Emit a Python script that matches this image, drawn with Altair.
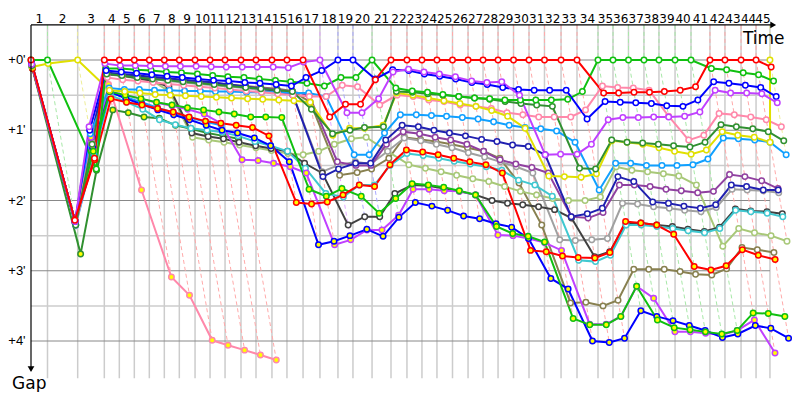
import altair as alt
import pandas as pd

# leader crossing time (race minutes) at the end of laps 0..45
lap_time = [0.0, 1.375, 3.89, 6.11, 7.36, 8.61, 9.86, 11.11, 12.36, 13.67,
            14.92, 16.17, 17.5, 18.75, 20.08, 21.33, 22.67, 24.08, 25.58, 26.83,
            28.42, 30.0, 31.33, 32.58, 33.83, 35.125, 36.42, 37.67, 38.92, 40.21,
            41.5, 42.79, 44.17, 45.5, 47.25, 48.5, 49.79, 51.08, 52.33, 53.67,
            55.0, 56.58, 57.83, 59.17, 60.42, 61.58]

# colour of the leader for laps 1..45 (index 0 unused)
lap_leader = [None, "green", "yellow",
              "red", "red", "red", "red", "red", "red", "red", "red", "red", "red", "red", "red", "red", "red",
              "magenta", "blue", "blue", "green",
              "red", "red", "red", "red", "red", "red", "red", "red", "red", "red", "red", "red", "red",
              "green", "green", "green", "green", "green", "green", "green",
              "red", "red", "red", "red", "yellow"]

# gap to leader (minutes), per lap 0..n
red_a = [0.0, 2.28, 1.4, 0, 0, 0, 0, 0, 0, 0, 0, 0, 0, 0, 0, 0, 0, 0.81, 0.63, 0.63,
         0.28, 0, 0, 0, 0, 0, 0, 0, 0, 0, 0, 0, 0, 0, 0.47, 0.47, 0.46, 0.46, 0.45, 0.43,
         0.38, 0, 0, 0, 0, 0.1]
mag_a = [0.06, 2.3, 0.95, 0.05, 0.08, 0.08, 0.085, 0.09, 0.09, 0.09, 0.095, 0.1, 0.1, 0.1, 0.1,
         0.11, 0.03, 0, 0.75, 0.75, 0.55, 0.17, 0.13, 0.17, 0.2, 0.24, 0.3, 0.32, 0.31, 0.5,
         1.35, 1.34, 1.34, 1.2, 0.85, 0.82, 0.82, 0.81, 0.81, 0.8, 0.74, 0.43, 0.47, 0.47, 0.48, 0.61]
blue_a = [0.04, 2.3, 1.0, 0.15, 0.17, 0.19, 0.21, 0.23, 0.25, 0.27, 0.29, 0.3, 0.32, 0.33, 0.35,
          0.37, 0.25, 0.15, 0, 0, 0.27, 0.14, 0.15, 0.2, 0.23, 0.27, 0.32, 0.35, 0.39, 0.42,
          0.43, 0.43, 0.43, 0.84, 0.59, 0.6, 0.61, 0.62, 0.65, 0.66, 0.57, 0.31, 0.33, 0.36, 0.39, 0.52]
green_a = [0.0, 0, 1.55, 0.12, 0.12, 0.14, 0.15, 0.17, 0.18, 0.2, 0.22, 0.24, 0.25, 0.27, 0.29,
           0.31, 0.33, 0.37, 0.25, 0.25, 0, 0.4, 0.44, 0.46, 0.49, 0.52, 0.54, 0.55, 0.57, 0.57,
           0.57, 0.57, 0.56, 0.45, 0, 0, 0, 0, 0, 0, 0, 0.12, 0.14, 0.18, 0.21, 0.3]
yellow_a = [0.1, 0.05, 0, 0.43, 0.45, 0.47, 0.49, 0.5, 0.51, 0.52, 0.53, 0.54, 0.55, 0.56, 0.57,
            0.58, 0.6, 1.07, 0.97, 0.97, 0.93, 0.47, 0.5, 0.54, 0.58, 0.62, 0.66, 0.72, 0.8, 0.97,
            1.65, 1.66, 1.67, 1.62, 1.15, 1.17, 1.2, 1.25, 1.3, 1.34, 1.28, 1.02, 1.07, 1.1, 1.17, 0]
dkgreen_a = [0.08, 2.35, 1.2, 0.2, 0.22, 0.25, 0.27, 0.29, 0.31, 0.33, 0.35, 0.37, 0.39, 0.41, 0.43,
             0.45, 0.7, 1.05, 1.0, 0.96, 0.95, 0.45, 0.46, 0.48, 0.5, 0.52, 0.54, 0.56, 0.59, 0.62,
             0.64, 0.66, 1.54, 1.55, 1.14, 1.17, 1.18, 1.2, 1.22, 1.24, 1.17, 0.92, 0.95, 0.98, 1.02, 1.15]
red_b = [0.12, 2.28, 1.42, 0.55, 0.6, 0.64, 0.69, 0.74, 0.81, 0.87, 0.9, 0.93, 0.96, 1.08, 2.03,
         2.05, 2.02, 1.92, 1.78, 1.8, 1.49, 1.28, 1.31, 1.35, 1.4, 1.45, 1.49, 1.61, 2.71, 2.73,
         2.79, 2.81, 2.82, 2.74, 2.3, 2.32, 2.35, 2.48, 2.94, 2.99, 2.93, 2.7, 2.78, 2.84]
cyan_a = [0.1, 2.3, 1.2, 0.5, 0.6, 0.7, 0.85, 0.92, 0.97, 1.0, 1.03, 1.08, 1.16, 1.22, 1.3,
          1.54, 1.9, 1.95, 1.78, 1.78, 1.5, 1.33, 1.36, 1.4, 1.44, 1.48, 1.52, 1.57, 1.71, 1.78,
          1.94, 2.85, 2.87, 2.78, 2.35, 2.35, 2.37, 2.4, 2.43, 2.46, 2.4, 2.14, 2.16, 2.18, 2.23]
dkgray_a = [0.1, 2.32, 1.2, 0.2, 0.22, 0.26, 0.3, 0.38, 1.04, 1.09, 1.12, 1.17, 1.22, 1.26, 1.3,
            1.47, 1.61, 2.35, 2.23, 2.23, 1.9, 1.78, 1.79, 1.83, 1.87, 1.92, 2.0, 2.04, 2.06, 2.09,
            2.13, 2.25, 2.8, 2.73, 2.33, 2.32, 2.35, 2.37, 2.41, 2.44, 2.38, 2.12, 2.15, 2.16, 2.19]
ltolive_a = [0.1, 2.3, 1.2, 0.2, 0.23, 0.26, 0.3, 0.45, 1.1, 1.14, 1.17, 1.21, 1.25, 1.29, 1.33,
             1.35, 1.3, 1.2, 1.12, 1.1, 1.3, 1.49, 1.54, 1.59, 1.64, 1.69, 1.73, 1.8, 1.87, 1.92,
             1.97, 2.0, 2.0, 1.95, 1.52, 1.57, 1.59, 1.62, 1.65, 1.78, 2.65, 2.4, 2.46, 2.5, 2.58]
navy_a = [0.05, 2.3, 1.1, 0.18, 0.2, 0.22, 0.24, 0.26, 0.28, 0.3, 0.32, 0.35, 0.38, 0.41, 0.44,
          0.5, 1.66, 1.55, 1.47, 1.47, 1.14, 0.93, 0.95, 1.0, 1.04, 1.08, 1.13, 1.16, 1.21, 1.23,
          1.35, 2.23, 2.19, 2.11, 1.66, 1.73, 2.02, 2.04, 2.08, 2.11, 2.06, 1.78, 1.8, 1.85, 1.85]
purple_a = [0.06, 2.3, 1.1, 0.2, 0.22, 0.24, 0.26, 0.28, 0.3, 0.32, 0.34, 0.36, 0.38, 0.4, 0.42,
            0.45, 0.5, 1.45, 1.5, 1.5, 1.2, 1.02, 1.05, 1.1, 1.14, 1.2, 1.3, 1.42, 1.48, 1.53,
            1.61, 2.23, 2.25, 2.17, 1.78, 1.78, 1.8, 1.84, 1.86, 1.89, 1.87, 1.63, 1.66, 1.72, 1.83]
gray_a = [0.08, 2.3, 1.17, 0.2, 0.22, 0.25, 0.27, 0.3, 0.32, 0.34, 0.36, 0.38, 0.4, 0.43, 0.46,
          0.5, 1.59, 1.5, 1.45, 1.48, 1.3, 1.11, 1.15, 1.2, 1.25, 1.32, 1.38, 1.45, 1.52, 1.61,
          2.56, 2.57, 2.56, 2.54, 2.04, 2.05, 2.09, 2.11, 2.14, 2.16, 2.1, 1.84, 1.85, 1.86, 1.89]
olive_a = [0.07, 2.3, 1.15, 0.2, 0.21, 0.23, 0.25, 0.27, 0.29, 0.31, 0.33, 0.35, 0.37, 0.39, 0.41,
           0.44, 0.6, 1.64, 1.6, 1.55, 1.4, 1.1, 1.13, 1.16, 1.2, 1.25, 1.3, 1.4, 1.75, 2.35,
           3.46, 3.45, 3.5, 3.42, 2.98, 2.98, 2.98, 3.01, 3.05, 3.06, 2.97, 2.67, 2.7, 2.74]
pink_a = [0.08, 2.3, 1.2, 0.25, 0.28, 0.3, 0.32, 0.34, 0.36, 0.38, 0.4, 0.42, 0.44, 0.46, 0.48,
          0.5, 0.52, 0.52, 0.36, 0.38, 0.64, 0.5, 0.52, 0.57, 0.59, 0.64, 0.66, 0.69, 0.75, 0.78,
          0.81, 0.81, 0.81, 0.71, 0.37, 0.39, 0.4, 0.43, 0.8, 1.14, 1.07, 0.76, 0.78, 0.81, 0.85, 0.95]
pink_b = [0.1, 2.35, 1.3, 0.35, 1.85, 3.09, 3.35, 3.99, 4.06, 4.13, 4.2, 4.27]
mag_b = [0.05, 2.35, 1.1, 0.45, 0.5, 0.55, 0.61, 0.65, 0.7, 0.77, 0.9, 1.42, 1.43, 1.47, 1.52,
         1.61, 2.63, 2.56, 2.42, 2.42, 2.21, 1.84, 1.84, 1.86, 1.87, 1.92, 2.49, 2.5, 2.54, 2.6,
         2.71, 3.76, 3.76, 3.65, 3.22, 3.39, 3.87, 3.87, 3.89, 3.91, 3.85, 3.7, 4.17]
blue_b = [0.05, 2.3, 1.25, 0.45, 0.55, 0.63, 0.71, 0.78, 0.85, 0.93, 1.0, 1.04, 1.11, 1.22, 1.45,
          2.63, 2.58, 2.5, 2.41, 2.51, 2.24, 2.03, 2.08, 2.14, 2.22, 2.26, 2.33, 2.38, 2.54, 3.11,
          3.26, 4.0, 4.02, 3.96, 3.57, 3.65, 3.71, 3.78, 3.85, 3.95, 3.9, 3.78, 3.82, 3.96]
green_b = [0.1, 2.3, 1.3, 0.45, 0.5, 0.55, 0.6, 0.64, 0.68, 0.71, 0.74, 0.77, 0.81, 0.81, 0.82,
           1.84, 1.94, 1.83, 1.94, 2.18, 1.97, 1.76, 1.78, 1.81, 1.86, 1.92, 2.37, 2.47, 2.51, 2.59,
           3.68, 3.77, 3.77, 3.65, 3.22, 3.7, 3.81, 3.84, 3.87, 3.9, 3.85, 3.6, 3.61, 3.65]
dkgreen_b = [0.12, 2.76, 1.57, 0.71, 0.75, 0.81, 0.83, 0.93, 0.98, 1.04, 1.08, 1.12]
lblue_a = [0.03, 2.35, 1.05, 0.4, 0.42, 0.42, 0.43, 0.43, 0.44, 0.44, 0.45, 0.45, 0.46, 0.46, 0.46,
           0.47, 0.47, 0.52, 1.35, 1.35, 1.04, 0.78, 0.78, 0.79, 0.8, 0.82, 0.84, 0.88, 0.93, 0.96,
           0.98, 1.01, 1.17, 1.85, 1.47, 1.47, 1.5, 1.5, 1.5, 1.49, 1.41, 1.11, 1.12, 1.14, 1.17, 1.35]
lblue_b = [0.1, 2.35, 1.35, 0.47, 0.53, 0.6, 0.68, 0.75, 0.82, 0.88, 0.93]

driver_names = ["dkgreen_b", "lblue_b", "pink_b", "olive", "ltolive", "gray", "dkgray", "cyan",
                "purple", "navy", "mag_b", "blue_b", "green_b", "red_b", "lblue_a", "pink_a",
                "yellow", "dkgreen_a", "green_a", "blue_a", "mag_a", "red_a"]
driver_gaps = [dkgreen_b, lblue_b, pink_b, olive_a, ltolive_a, gray_a, dkgray_a, cyan_a,
               purple_a, navy_a, mag_b, blue_b, green_b, red_b, lblue_a, pink_a,
               yellow_a, dkgreen_a, green_a, blue_a, mag_a, red_a]
driver_colors = ["#309030", "#10a0ff", "#ff88aa", "#888050", "#a8c878", "#a0a0a0", "#404040", "#40c8d0",
                 "#9040a0", "#2020b0", "#c040ff", "#0000ff", "#10c010", "#ff0000", "#10a0ff", "#ff88aa",
                 "#e0e000", "#309030", "#10c010", "#0000ff", "#c040ff", "#ff0000"]
driver_fills = ["#ffff00", "#ffff00", "#ffff00", "#ffffff", "#ffffff", "#ffffff", "#ffffff", "#ffffff",
                "#ffffff", "#ffffff", "#ffff00", "#ffff00", "#ffff00", "#ffff00", "#ffffff", "#ffffff",
                "#ffffff", "#ffffff", "#ffffff", "#ffffff", "#ffffff", "#ffffff"]

leader_dash_colors = {"red": "#ffaaaa", "green": "#a8e8a8", "yellow": "#eeee99",
                      "blue": "#aaaaff", "magenta": "#e2aaff"}

gap_ticks = [0, 1, 2, 3, 4]
gap_tick_labels = ["+0'", "+1'", "+2'", "+3'", "+4'"]
half_ticks = [0.5, 1.5, 2.5, 3.5]

# ---------- tables ----------
rows = []
for name, gaps, fillc in zip(driver_names, driver_gaps, driver_fills):
    for lap, g in enumerate(gaps):
        rows.append({"driver": name, "lap": lap, "gap": g, "t": lap_time[lap] + g, "fillc": fillc})
cars = pd.DataFrame(rows)

dash_rows = []
for lap in range(1, len(lap_time)):
    col = leader_dash_colors[lap_leader[lap]]
    pts = sorted([(r["gap"], r["t"]) for r in rows if r["lap"] == lap])
    seq = [(-0.5, lap_time[lap]), (0.0, lap_time[lap])] + pts
    for k, (g, t) in enumerate(seq):
        dash_rows.append({"lap": lap, "ord": k, "gap": g, "t": t, "dcol": col})
dashes = pd.DataFrame(dash_rows)

vgrid = pd.DataFrame({"t": lap_time[1:], "gap": -0.5, "gap2": 4.53})
hminor = pd.DataFrame({"gap": half_ticks, "t": 0.0, "t2": 61.58})
hmajor = pd.DataFrame({"gap": gap_ticks, "t": 0.0, "t2": 61.58})
ylab = pd.DataFrame({"gap": gap_ticks, "t": -0.45, "txt": gap_tick_labels})
laplab = pd.DataFrame({"t": [(lap_time[i - 1] + lap_time[i]) / 2 for i in range(1, len(lap_time))],
                       "gap": -0.585, "txt": [str(i) for i in range(1, len(lap_time))]})

X = alt.Scale(domain=[0, 62.25], range=[23, 770], zero=False, nice=False)
Y = alt.Scale(domain=[0, 4], range=[52, 333], zero=False, nice=False)
x_enc = alt.X("t:Q", scale=X, axis=None)
y_enc = alt.Y("gap:Q", scale=Y, axis=None)
color_scale = alt.Scale(domain=driver_names, range=driver_colors)

l_vgrid = alt.Chart(vgrid).mark_rule(color="#cccccc", strokeWidth=1.5).encode(
    x=x_enc, y=y_enc, y2="gap2:Q")
l_hminor = alt.Chart(hminor).mark_rule(color="#cccccc", strokeWidth=1.5).encode(
    y=y_enc, x=x_enc, x2="t2:Q")
l_hmajor = alt.Chart(hmajor).mark_rule(color="#888888", strokeWidth=1).encode(
    y=y_enc, x=x_enc, x2="t2:Q")
l_dash = alt.Chart(dashes).mark_line(strokeDash=[4, 3], strokeWidth=1).encode(
    x=x_enc, y=y_enc, detail="lap:N", order="ord:Q",
    color=alt.Color("dcol:N", scale=None))
l_lines = alt.Chart(cars).mark_line(strokeWidth=2).encode(
    x=x_enc, y=y_enc, order="lap:Q",
    color=alt.Color("driver:N", scale=color_scale, legend=None))
l_pts = alt.Chart(cars).mark_point(shape="circle", size=30, strokeWidth=1.5, opacity=1, fillOpacity=1).encode(
    x=x_enc, y=y_enc,
    stroke=alt.Stroke("driver:N", scale=color_scale, legend=None),
    fill=alt.Fill("fillc:N", scale=None))

axis_v = alt.Chart(pd.DataFrame({"t": [0.0], "gap": [-0.5], "gap2": [4.42]})).mark_rule(
    color="black", strokeWidth=1.2).encode(x=x_enc, y=y_enc, y2="gap2:Q")
axis_h = alt.Chart(pd.DataFrame({"t": [0.0], "t2": [61.7], "gap": [-0.5]})).mark_rule(
    color="black", strokeWidth=1.2).encode(x=x_enc, x2="t2:Q", y=y_enc)
arrow_v = alt.Chart(pd.DataFrame({"t": [0.0], "gap": [4.4]})).mark_point(
    shape="triangle-down", filled=True, color="black", size=45, opacity=1).encode(x=x_enc, y=y_enc)
arrow_h = alt.Chart(pd.DataFrame({"t": [61.85], "gap": [-0.5]})).mark_point(
    shape="triangle-right", filled=True, color="black", size=45, opacity=1).encode(x=x_enc, y=y_enc)

t_ylab = alt.Chart(ylab).mark_text(align="right", baseline="middle", font="Liberation Sans",
                                   fontSize=13, color="black").encode(x=x_enc, y=y_enc, text="txt:N")
t_lap = alt.Chart(laplab).mark_text(align="center", baseline="middle", font="DejaVu Sans",
                                    fontSize=12, color="black").encode(x=x_enc, y=y_enc, text="txt:N")
t_time = alt.Chart(pd.DataFrame({"t": [59.33], "gap": [-0.228], "txt": ["Time"]})).mark_text(
    align="left", baseline="alphabetic", font="DejaVu Sans", fontSize=17, color="black").encode(
    x=x_enc, y=y_enc, text="txt:N")
t_gap = alt.Chart(pd.DataFrame({"t": [-1.58], "gap": [4.69], "txt": ["Gap"]})).mark_text(
    align="left", baseline="alphabetic", font="DejaVu Sans", fontSize=17, color="black").encode(
    x=x_enc, y=y_enc, text="txt:N")

chart = alt.layer(
    l_vgrid, l_hminor, l_hmajor, l_dash, l_lines, l_pts,
    axis_v, axis_h, arrow_v, arrow_h, t_ylab, t_lap, t_time, t_gap
).properties(
    width=784, height=384, autosize=alt.AutoSizeParams(type="none"), padding=0,
    background="white"
).configure_view(stroke=None)

chart.save("out.html", embed_options={"renderer": "svg", "actions": False})
